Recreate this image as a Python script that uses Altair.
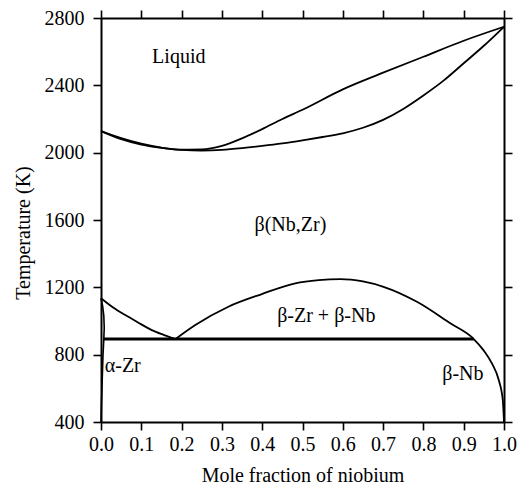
import altair as alt
import pandas as pd

# Liquidus (upper curve of the melting loop)
liq_x = [0.0, 0.05, 0.1, 0.15, 0.2, 0.25, 0.3, 0.35, 0.4, 0.45, 0.5, 0.6, 0.7, 0.8, 0.9, 1.0]
liq_T = [2128, 2086, 2053, 2030, 2018, 2019, 2040, 2085, 2140, 2200, 2255, 2376, 2475, 2570, 2665, 2748]

# Solidus (lower curve of the melting loop)
sol_x = [0.0, 0.05, 0.1, 0.15, 0.2, 0.25, 0.3, 0.35, 0.4, 0.45, 0.5, 0.55, 0.6, 0.65, 0.7,
         0.75, 0.8, 0.85, 0.9, 0.95, 1.0]
sol_T = [2128, 2080, 2048, 2028, 2016, 2013, 2017, 2027, 2040, 2055, 2073, 2093, 2115, 2148, 2195,
         2260, 2340, 2428, 2531, 2635, 2748]

# beta / (alpha + beta) boundary on the Zr side
bl_x = [0.0, 0.03, 0.068, 0.1, 0.126, 0.155, 0.185]
bl_T = [1135, 1080, 1025, 980, 946, 918, 893]

# Miscibility gap dome and beta-Nb solvus
dome_x = [0.185, 0.234, 0.316, 0.399, 0.482, 0.54, 0.594, 0.65, 0.701, 0.784, 0.867, 0.925,
          0.949, 0.970, 0.987, 0.997, 1.0]
dome_T = [893, 976, 1085, 1160, 1224, 1243, 1249, 1235, 1203, 1114, 986, 893,
          827, 748, 649, 530, 400]

# alpha-Zr phase boundary (thin lens at x ~ 0)
al_x = [0.0, 0.004, 0.007, 0.008, 0.007, 0.005, 0.003, 0.001, 0.0]
al_T = [1135, 1090, 1030, 960, 893, 800, 650, 500, 400]

# Monotectoid line
mono_x = [0.007, 0.925]
mono_T = [893, 893]

# Region labels
lab_text = ["Liquid", "β(Nb,Zr)", "β-Zr + β-Nb", "α-Zr", "β-Nb"]
lab_x = [0.193, 0.470, 0.559, 0.054, 0.898]
lab_T = [2534, 1534, 996, 698, 649]

x_ticks = [0.0, 0.1, 0.2, 0.3, 0.4, 0.5, 0.6, 0.7, 0.8, 0.9, 1.0]
y_ticks = [400, 800, 1200, 1600, 2000, 2400, 2800]


def frame(name, xs, ts):
    return pd.DataFrame({"x": xs, "T": ts, "curve": name, "i": list(range(len(xs)))})


curves_df = pd.concat([
    frame("liquidus", liq_x, liq_T),
    frame("solidus", sol_x, sol_T),
    frame("beta_left", bl_x, bl_T),
    frame("dome", dome_x, dome_T),
], ignore_index=True)
alpha_df = frame("alpha", al_x, al_T)
mono_df = frame("mono", mono_x, mono_T)
lab_df = pd.DataFrame({"label": lab_text, "x": lab_x, "T": lab_T})

xscale = alt.Scale(domain=[0, 1], nice=False, zero=False)
yscale = alt.Scale(domain=[400, 2800], nice=False, zero=False)

FONT = "Liberation Serif"

curves = alt.Chart(curves_df).mark_line(
    color="black", strokeWidth=1.8, interpolate="monotone"
).encode(
    x=alt.X("x:Q", scale=xscale, axis=alt.Axis(
        orient="bottom", values=x_ticks, format=".1f", title="Mole fraction of niobium",
        labelPadding=4, labelFlush=False, labelOverlap=False,
        titleBaseline="alphabetic", titleY=59.5)),
    y=alt.Y("T:Q", scale=yscale, axis=alt.Axis(
        orient="left", values=y_ticks, format="d", title="Temperature (K)",
        labelPadding=9, labelFlush=False, labelOverlap=False,
        titleBaseline="alphabetic", titleX=-72, titleY=214.5)),
    detail="curve:N",
    order="i:Q",
)

mono = alt.Chart(mono_df).mark_line(color="black", strokeWidth=3).encode(
    x=alt.X("x:Q", scale=xscale, axis=alt.Axis(
        orient="top", values=x_ticks, labels=False, title=None)),
    y=alt.Y("T:Q", scale=yscale, axis=alt.Axis(
        orient="right", values=y_ticks, labels=False, title=None)),
    order="i:Q",
)

alpha = alt.Chart(alpha_df).mark_line(
    color="black", strokeWidth=1.6, interpolate="linear"
).encode(
    x=alt.X("x:Q", scale=xscale, axis=None),
    y=alt.Y("T:Q", scale=yscale, axis=None),
    order="i:Q",
)

labels = alt.Chart(lab_df).mark_text(
    font=FONT, fontSize=20, baseline="alphabetic", align="center", color="black"
).encode(
    x=alt.X("x:Q", scale=xscale, axis=None),
    y=alt.Y("T:Q", scale=yscale, axis=None),
    text="label:N",
)

chart = alt.layer(curves, mono, alpha, labels).resolve_axis(
    x="independent", y="independent"
).properties(
    width=403,
    height=404,
    autosize=alt.AutoSizeParams(type="none"),
    padding={"left": 101, "top": 18, "right": 20, "bottom": 63},
    background="white",
).configure_view(stroke=None).configure_axis(
    grid=False,
    domainColor="black",
    domainWidth=2,
    tickColor="black",
    tickWidth=1.6,
    tickSize=8,
    labelFont=FONT,
    labelFontSize=20,
    labelColor="black",
    titleFont=FONT,
    titleFontSize=20,
    titleFontWeight="normal",
    titleColor="black",
)

chart.save("out.html", embed_options={"renderer": "svg", "actions": False})
